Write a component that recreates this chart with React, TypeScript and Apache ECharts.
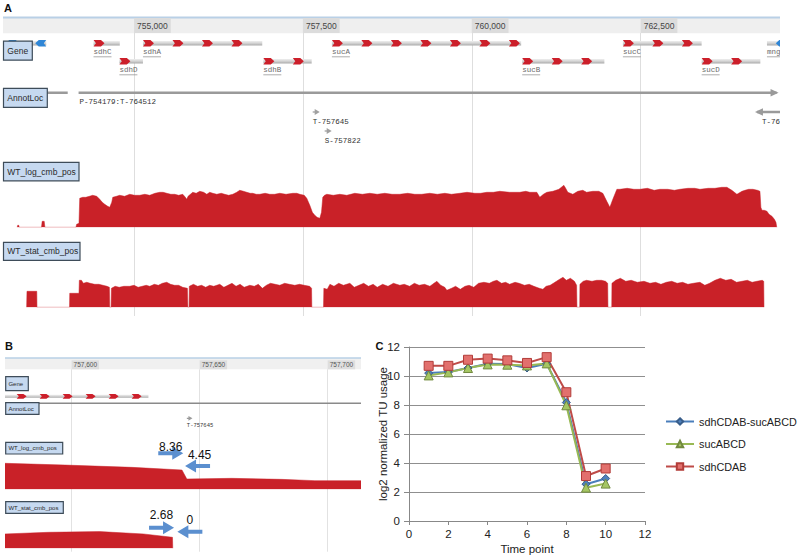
import React, { useEffect, useRef } from "react";
import * as echarts from "echarts";

// ---------- Panel A / B genome coordinates ----------
const regionA = [753060, 764563];
const ticksA = [755000, 757500, 760000, 762500];
const regionB = [757574, 757713];
const ticksB = [757600, 757650, 757700];

// Genes (Gene track)
const geneNames = ["gltA", "sdhC", "sdhD", "sdhA", "sdhB", "sucA", "sucB", "sucC", "sucD", "mngR"];
const geneStarts = [752408, 754400, 754783, 755132, 756914, 757929, 760746, 762237, 763403, 764370];
const geneEnds = [753700, 754789, 755132, 756898, 757630, 760731, 761963, 763403, 764272, 765100];
const geneStrands = [-1, 1, 1, 1, 1, 1, 1, 1, 1, -1];
const geneRows = [0, 0, 1, 0, 1, 0, 1, 0, 1, 0];

// AnnotLoc features (kind 0 = span, 1 = site)
const featLabels = ["", "P-754179:T-764512", "T-757645", "S-757822", "T-76"];
const featStarts = [752900, 754179, 757645, 757822, 764222];
const featEnds = [754018, 764512, 757645, 757822, 764600];
const featStrands = [0, 1, 1, 1, -1];
const featRows = [0, 0, 1, 2, 1];
const featKinds = [0, 0, 1, 1, 0];

// Coverage, panel A (position, coverage)
const logCoverageA = [
  [753270, 0], [753278, 2], [753293, 2], [753300, 0],
  [753630, 0], [753640, 6], [753670, 6], [753680, 0],
  [754140, 0], [754150, 3], [754185, 4], [754196, 29], [754240, 30], [754285, 30], [754340, 31], [754388, 32],
  [754448, 31], [754492, 28], [754530, 25], [754566, 23], [754610, 21], [754640, 20], [754670, 25], [754685, 30],
  [754740, 31], [754788, 32], [754860, 31], [754936, 33], [755010, 32], [755085, 32], [755160, 33], [755233, 32],
  [755310, 34], [755381, 35], [755430, 35], [755485, 34], [755545, 33], [755603, 33], [755660, 32], [755721, 33],
  [755760, 30], [755780, 28], [755800, 31], [755869, 35], [755920, 34], [755973, 36], [756030, 35], [756077, 33],
  [756120, 35], [756166, 34], [756225, 33], [756290, 34], [756343, 33], [756400, 32], [756462, 33], [756520, 35],
  [756565, 37], [756620, 36], [756669, 35], [756720, 34], [756758, 34], [756810, 33], [756862, 33], [756940, 34],
  [757010, 33], [757080, 33], [757158, 34], [757250, 33], [757350, 34], [757410, 34], [757454, 33], [757520, 32],
  [757557, 29], [757602, 22], [757640, 15], [757676, 12], [757710, 10], [757750, 9], [757775, 15], [757794, 30],
  [757820, 32], [757854, 33], [757950, 32], [758046, 33], [758150, 32], [758268, 34], [758380, 33], [758490, 34],
  [758600, 33], [758712, 34], [758820, 33], [758934, 33], [759050, 34], [759156, 33], [759260, 33], [759378, 34],
  [759490, 33], [759601, 34], [759700, 33], [759823, 34], [759930, 35], [760045, 34], [760130, 34], [760223, 35],
  [760320, 35], [760415, 36], [760560, 35], [760711, 35], [760800, 36], [760859, 35], [760963, 35], [761007, 30],
  [761060, 33], [761111, 35], [761200, 36], [761289, 38], [761363, 42], [761390, 39], [761422, 35], [761496, 33],
  [761570, 36], [761644, 37], [761700, 35], [761792, 36], [761880, 36], [761940, 34], [761999, 26], [762044, 20],
  [762088, 28], [762148, 38], [762193, 38], [762300, 39], [762400, 38], [762489, 38], [762600, 39], [762700, 37],
  [762785, 38], [762900, 38], [763000, 37], [763081, 38], [763200, 39], [763300, 39], [763378, 38], [763500, 39],
  [763600, 39], [763700, 40], [763777, 40], [763850, 37], [763925, 33], [764000, 36], [764044, 37], [764100, 38],
  [764162, 38], [764230, 37], [764266, 36], [764280, 20], [764296, 17], [764330, 17], [764370, 16], [764400, 13],
  [764444, 11], [764480, 8], [764503, 5], [764515, 0],
];
const statCoverageA = [
  [753410, 0], [753415, 16], [753560, 16], [753563, 0],
  [754045, 0], [754048, 14], [754185, 14], [754190, 27], [754221, 27], [754250, 24], [754300, 25], [754350, 24],
  [754418, 23], [754480, 23], [754540, 22], [754600, 21], [754635, 20], [754640, 0], [754660, 0], [754665, 19],
  [754720, 21], [754780, 20], [754850, 21], [754936, 21], [755000, 22], [755060, 20], [755120, 21], [755180, 22],
  [755233, 21], [755300, 23], [755360, 22], [755420, 24], [755484, 25], [755540, 23], [755600, 22], [755660, 22],
  [755720, 20], [755790, 19], [755797, 0], [755815, 0], [755818, 21], [755880, 23], [755940, 21], [756000, 22],
  [756060, 20], [756120, 22], [756180, 21], [756269, 23], [756330, 20], [756390, 22], [756450, 24], [756510, 21],
  [756570, 23], [756630, 20], [756714, 22], [756780, 21], [756840, 23], [756900, 19], [756960, 22], [757020, 24],
  [757090, 23], [757158, 22], [757230, 24], [757300, 23], [757380, 22], [757450, 23], [757520, 22], [757600, 21],
  [757628, 19], [757632, 0], [757805, 0], [757810, 19], [757860, 18], [757900, 23], [757960, 21], [758030, 24],
  [758100, 22], [758195, 24], [758260, 20], [758330, 22], [758400, 24], [758470, 21], [758540, 23], [758600, 20],
  [758680, 23], [758760, 21], [758840, 24], [758935, 22], [759000, 23], [759080, 21], [759150, 24], [759220, 22],
  [759300, 23], [759380, 21], [759440, 24], [759483, 26], [759540, 22], [759600, 20], [759631, 17], [759700, 19],
  [759760, 21], [759830, 18], [759900, 21], [759960, 22], [760030, 20], [760100, 24], [760180, 25], [760260, 24],
  [760320, 26], [760372, 27], [760440, 24], [760500, 25], [760560, 23], [760640, 25], [760700, 24], [760780, 22],
  [760850, 23], [760920, 21], [761000, 19], [761053, 18], [761100, 21], [761160, 22], [761230, 25], [761300, 28],
  [761350, 30], [761400, 27], [761460, 29], [761520, 26], [761552, 22], [761557, 0], [761598, 0], [761601, 23],
  [761650, 26], [761700, 27], [761780, 26], [761850, 27], [761920, 27], [761980, 26], [762012, 24], [762016, 0],
  [762072, 0], [762075, 24], [762130, 27], [762200, 29], [762280, 26], [762360, 27], [762450, 25], [762550, 26],
  [762638, 24], [762720, 25], [762800, 23], [762880, 25], [762960, 26], [763040, 24], [763120, 25], [763200, 23],
  [763280, 24], [763378, 25], [763450, 22], [763520, 24], [763600, 27], [763680, 29], [763760, 27], [763840, 28],
  [763920, 25], [764000, 26], [764080, 27], [764150, 25], [764220, 26], [764300, 27], [764322, 26], [764326, 0],
];

// Coverage, panel B (zoom at the sdhB / sucA junction)
const logCoverageB = [
  [757574, 11.26], [757597.5, 10.5], [757623.6, 9.5], [757643.1, 8.36], [757645, 4.45], [757662.5, 4.75],
  [757682, 4.3], [757695, 3.75], [757713, 3.75],
];
const statCoverageB = [
  [757574, 3.5], [757591, 3.9], [757611, 4.07], [757628, 3.5], [757639.4, 2.68], [757639.5, 0],
];
// Annotated values at the junction: [position, value, arrow direction]
const logMarksB = [[757643.6, 8.36, 1], [757644.3, 4.45, -1]];
const statMarksB = [[757640, 2.68, 1], [757641.3, 0, -1]];

// ---------- Panel C ----------
const timePoints = [1, 2, 3, 4, 5, 6, 7, 8, 9, 10];
const seriesNames = ["sdhCDAB-sucABCD", "sucABCD", "sdhCDAB"];
const sdhCDAB_sucABCD = [10.2, 10.27, 10.55, 10.85, 10.82, 10.55, 10.85, 8.17, 2.54, 2.93];
const sucABCD = [10.04, 10.25, 10.55, 10.8, 10.78, 10.73, 10.87, 7.98, 2.3, 2.58];
const sdhCDAB = [10.7, 10.7, 11.12, 11.2, 11.08, 10.9, 11.3, 8.88, 3.1, 3.62];

const RED = "#c92128";
const SANS = "Liberation Sans";
const MONO = "Liberation Mono";

const fmtPos = (v: number) => String(Math.round(v)).replace(/\B(?=(\d{3})+(?!\d))/g, ",");

function geneRenderer(cfg: any) {
  return (params: any, api: any) => {
    const i = params.dataIndex;
    const cs = params.coordSys;
    const x0 = api.coord([api.value(0), 0])[0];
    const x1 = api.coord([api.value(1), 0])[0];
    const strand = api.value(2);
    const row = api.value(3);
    const y = cs.y + cfg.rowY[row];
    const h = cfg.barH;
    const children: any[] = [
      {
        type: "rect",
        shape: { x: x0, y: y - h / 2, width: x1 - x0, height: h },
        style: {
          fill: new echarts.graphic.LinearGradient(0, 0, 0, 1, [
            { offset: 0, color: "#eeeeee" },
            { offset: 0.5, color: "#d2d2d2" },
            { offset: 1, color: "#a8a8a8" },
          ]),
        },
      },
    ];
    const w = cfg.chevW;
    const ch = cfg.chevH / 2;
    if (strand > 0) {
      for (let cx = x0; cx + w <= x1 + 0.5; cx += cfg.spacing) {
        children.push({
          type: "polygon",
          shape: { points: [[cx, y - ch], [cx + w * 0.68, y - ch], [cx + w, y], [cx + w * 0.68, y + ch], [cx, y + ch], [cx + w * 0.22, y]] },
          style: { fill: cfg.fwd },
        });
      }
    } else {
      for (let cx = x1; cx - w >= x0 - 0.5; cx -= cfg.spacing) {
        children.push({
          type: "polygon",
          shape: { points: [[cx, y - ch], [cx - w * 0.68, y - ch], [cx - w, y], [cx - w * 0.68, y + ch], [cx, y + ch], [cx - w * 0.22, y]] },
          style: { fill: cfg.rev },
        });
      }
    }
    if (cfg.labels && x0 >= cs.x) {
      const name = geneNames[i];
      const ly = y + cfg.labelDy;
      const maxChars = Math.max(0, Math.round((cs.x + cs.width - x0) / (cfg.fontSize * 0.6)));
      const shown = name.slice(0, maxChars);
      if (shown) {
        children.push({
          type: "text",
          x: x0,
          y: ly,
          style: { text: shown, fill: "#6a6a6a", fontSize: cfg.fontSize, fontFamily: MONO, align: "left", verticalAlign: "middle" },
        });
        const tw = shown.length * cfg.fontSize * 0.6;
        const uy = ly + cfg.fontSize * 0.6;
        children.push({ type: "line", shape: { x1: x0, y1: uy, x2: x0 + tw, y2: uy }, style: { stroke: "#8a8a8a", lineWidth: 0.7 } });
      }
    }
    return { type: "group", children };
  };
}

function featRenderer(cfg: any) {
  return (params: any, api: any) => {
    const i = params.dataIndex;
    const cs = params.coordSys;
    const x0 = api.coord([api.value(0), 0])[0];
    const x1 = api.coord([api.value(1), 0])[0];
    const strand = api.value(2);
    const row = api.value(3);
    const kind = api.value(4);
    const y = cs.y + cfg.rowY[row];
    const children: any[] = [];
    const hh = cfg.head;
    if (kind === 0) {
      children.push({ type: "line", shape: { x1: x0, y1: y, x2: x1, y2: y }, style: { stroke: cfg.color, lineWidth: cfg.lw } });
      if (strand > 0) {
        children.push({ type: "polygon", shape: { points: [[x1 - hh * 1.2, y - hh * 0.75], [x1 + 2, y], [x1 - hh * 1.2, y + hh * 0.75]] }, style: { fill: cfg.color } });
      } else if (strand < 0) {
        children.push({ type: "polygon", shape: { points: [[x0 + hh * 1.2, y - hh * 0.75], [x0 - 2, y], [x0 + hh * 1.2, y + hh * 0.75]] }, style: { fill: cfg.color } });
      }
    } else {
      children.push({ type: "line", shape: { x1: x0, y1: y, x2: x0 + hh * 0.6, y2: y }, style: { stroke: cfg.siteColor, lineWidth: 1.3 } });
      children.push({ type: "polygon", shape: { points: [[x0 + hh * 0.4, y - hh * 0.6], [x0 + hh * 1.4, y], [x0 + hh * 0.4, y + hh * 0.6]] }, style: { fill: cfg.siteColor } });
    }
    const label = featLabels[i];
    const lx = x0 + (kind === 0 ? (strand < 0 ? 5 : 1) : 0);
    if (label && lx >= cs.x && lx < cs.x + cs.width) {
      children.push({
        type: "text",
        x: lx,
        y: y + cfg.labelDy,
        style: { text: label, fill: "#333", fontSize: cfg.fontSize, fontFamily: MONO, align: "left", verticalAlign: "middle" },
      });
    }
    return { type: "group", children };
  };
}

function markRenderer(layout: any) {
  return (params: any, api: any) => {
    const cs = params.coordSys;
    const tx = api.coord([api.value(0), 0])[0];
    const val = api.value(1);
    const dir = api.value(2);
    const lay = dir > 0 ? layout.right : layout.left;
    const y = cs.y + lay.dy;
    const L = 25, hl = 11, hw = 6.5, sw = 2;
    const pts = [
      [tx - dir * L, y - sw], [tx - dir * hl, y - sw], [tx - dir * hl, y - hw], [tx, y],
      [tx - dir * hl, y + hw], [tx - dir * hl, y + sw], [tx - dir * L, y + sw],
    ];
    return {
      type: "group",
      children: [
        { type: "polygon", shape: { points: pts }, style: { fill: "#5b8fcf" } },
        {
          type: "text",
          x: tx - (dir * L) / 2 + lay.dx,
          y: y + lay.ty,
          style: { text: String(val), fill: "#111", fontSize: 12, fontFamily: SANS, align: "center", verticalAlign: "middle" },
        },
      ],
    };
  };
}

function trackBox(x: number, y: number, w: number, h: number, text: string, fs: number) {
  return {
    type: "group",
    z: 100,
    children: [
      { type: "rect", z: 100, shape: { x, y, width: w, height: h }, style: { fill: "#c6d9f0", stroke: "#3e4c59", lineWidth: 1.2 } },
      { type: "text", z: 101, x: x + fs * 0.45, y: y + h / 2, style: { text, fill: "#2a2a2a", fontSize: fs, fontFamily: SANS, verticalAlign: "middle", align: "left" } },
    ],
  };
}

const geneData = geneStarts.map((s, i) => [s, geneEnds[i], geneStrands[i], geneRows[i]]);
const featData = featStarts.map((s, i) => [s, featEnds[i], featStrands[i], featRows[i], featKinds[i]]);

const hiddenX = (grid: number, r: number[]) => ({ type: "value", gridIndex: grid, min: r[0], max: r[1], show: false });
const hiddenY = (grid: number, max: number) => ({ type: "value", gridIndex: grid, min: 0, max, show: false });

const option: any = {
  animation: false,
  grid: [
    { left: 3, top: 33, width: 777, height: 283, outerBoundsMode: "none" },
    { left: 3, top: 182.3, width: 777, height: 45, outerBoundsMode: "none" },
    { left: 3, top: 272.3, width: 777, height: 35, outerBoundsMode: "none" },
    { left: 5, top: 369.3, width: 356, height: 182.4, outerBoundsMode: "none" },
    { left: 5, top: 461.6, width: 356, height: 27.7, outerBoundsMode: "none" },
    { left: 5, top: 527.8, width: 356, height: 20.5, outerBoundsMode: "none" },
    { left: 409, top: 347, width: 236, height: 174, outerBoundsMode: "none" },
  ],
  xAxis: [
    {
      type: "value", gridIndex: 0, min: regionA[0], max: regionA[1], position: "top",
      axisLine: { show: false },
      axisTick: { show: false, customValues: ticksA },
      splitLine: { show: true, lineStyle: { color: "#dedede", width: 1 } },
      axisLabel: {
        customValues: ticksA, formatter: fmtPos, margin: 0, align: "left", verticalAlign: "bottom",
        fontSize: 8.5, fontFamily: SANS, color: "#444", backgroundColor: "#dcdcdc", padding: [3, 3, 3, 3],
      },
    },
    hiddenX(1, regionA),
    hiddenX(2, regionA),
    {
      type: "value", gridIndex: 3, min: regionB[0], max: regionB[1], position: "top",
      axisLine: { show: false },
      axisTick: { show: false, customValues: ticksB },
      splitLine: { show: true, lineStyle: { color: "#e2e2e2", width: 1 } },
      axisLabel: {
        customValues: ticksB, formatter: fmtPos, margin: 0, align: "left", verticalAlign: "bottom",
        fontSize: 6.5, fontFamily: SANS, color: "#555", backgroundColor: "#dedede", padding: [1, 2, 1, 2],
      },
    },
    hiddenX(4, regionB),
    hiddenX(5, regionB),
    {
      type: "value", gridIndex: 6, min: 0, max: 12, interval: 2,
      name: "Time point", nameLocation: "middle", nameGap: 22, nameMoveOverlap: false,
      nameTextStyle: { fontSize: 11.5, fontFamily: SANS, color: "#222" },
      axisLine: { lineStyle: { color: "#888", width: 1 } },
      axisTick: { show: true, length: 4, lineStyle: { color: "#888" } },
      axisLabel: { fontSize: 11.5, fontFamily: SANS, color: "#222", margin: 7 },
      splitLine: { show: false },
    },
  ],
  yAxis: [
    hiddenY(0, 1),
    hiddenY(1, 45),
    hiddenY(2, 35),
    hiddenY(3, 1),
    hiddenY(4, 12),
    hiddenY(5, 5),
    {
      type: "value", gridIndex: 6, min: 0, max: 12, interval: 2,
      name: "log2 normalized TU usage", nameLocation: "middle", nameRotate: 90, nameGap: 20, nameMoveOverlap: false,
      nameTextStyle: { fontSize: 11.5, fontFamily: SANS, color: "#222" },
      axisLine: { show: true, lineStyle: { color: "#888", width: 1 } },
      axisTick: { show: true, length: 5, lineStyle: { color: "#888" } },
      axisLabel: { fontSize: 11.5, fontFamily: SANS, color: "#222", margin: 9 },
      splitLine: { show: true, lineStyle: { color: "#8f8f8f", width: 1 } },
    },
  ],
  legend: {
    orient: "vertical", left: 660, top: 411, itemWidth: 28, itemHeight: 8, itemGap: 11.5,
    textStyle: { fontSize: 10.8, fontFamily: SANS, color: "#222" },
    data: seriesNames,
  },
  series: [
    // Panel A
    {
      type: "custom", xAxisIndex: 0, yAxisIndex: 0, clip: true, silent: true, data: geneData,
      encode: { x: [0, 1], y: 3 },
      renderItem: geneRenderer({ rowY: [10.3, 28.3], barH: 4.5, chevW: 11, chevH: 6.5, spacing: 29.5, fwd: "#cc1f2a", rev: "#2f86d6", labels: true, labelDy: 9, fontSize: 7.5 }),
    },
    {
      type: "custom", xAxisIndex: 0, yAxisIndex: 0, clip: true, silent: true, data: featData,
      encode: { x: [0, 1], y: 3 },
      renderItem: featRenderer({ rowY: [59.7, 79, 98], lw: 2.5, color: "#9a9a9a", siteColor: "#a0a0a0", head: 5, labelDy: 9.5, fontSize: 7.5 }),
    },
    {
      type: "line", xAxisIndex: 1, yAxisIndex: 1, data: logCoverageA, symbol: "none", silent: true,
      lineStyle: { width: 0.5, color: RED }, itemStyle: { color: RED }, areaStyle: { color: RED, opacity: 1 },
    },
    {
      type: "line", xAxisIndex: 2, yAxisIndex: 2, data: statCoverageA, symbol: "none", silent: true,
      lineStyle: { width: 0.5, color: RED }, itemStyle: { color: RED }, areaStyle: { color: RED, opacity: 1 },
    },
    // Panel B
    {
      type: "custom", xAxisIndex: 3, yAxisIndex: 3, clip: true, silent: true, data: geneData,
      encode: { x: [0, 1], y: 3 },
      renderItem: geneRenderer({ rowY: [9.9, 27], barH: 3, chevW: 10, chevH: 4.8, spacing: 23, fwd: "#cc1f2a", rev: "#2f86d6", labels: false, labelDy: 7, fontSize: 6 }),
    },
    {
      type: "custom", xAxisIndex: 3, yAxisIndex: 3, clip: true, silent: true, data: featData,
      encode: { x: [0, 1], y: 3 },
      renderItem: featRenderer({ rowY: [34, 49, 64], lw: 1.5, color: "#8a8a8a", siteColor: "#9a9a9a", head: 4, labelDy: 7, fontSize: 5.5 }),
    },
    {
      type: "line", xAxisIndex: 4, yAxisIndex: 4, data: logCoverageB, symbol: "none", silent: true,
      lineStyle: { width: 0.5, color: RED }, itemStyle: { color: RED }, areaStyle: { color: RED, opacity: 1 },
    },
    {
      type: "line", xAxisIndex: 5, yAxisIndex: 5, data: statCoverageB, symbol: "none", silent: true,
      lineStyle: { width: 0.5, color: RED }, itemStyle: { color: RED }, areaStyle: { color: RED, opacity: 1 },
    },
    {
      type: "custom", xAxisIndex: 4, yAxisIndex: 4, clip: false, silent: true, data: logMarksB, z: 10,
      encode: { x: 0, y: 1 },
      renderItem: markRenderer({ right: { dy: -8.3, ty: -6, dx: 0 }, left: { dy: 4.4, ty: -11, dx: 2 } }),
    },
    {
      type: "custom", xAxisIndex: 5, yAxisIndex: 5, clip: false, silent: true, data: statMarksB, z: 10,
      encode: { x: 0, y: 1 },
      renderItem: markRenderer({ right: { dy: 0, ty: -12.7, dx: 0 }, left: { dy: 4, ty: -11.7, dx: 0 } }),
    },
    // Panel C
    {
      name: seriesNames[0], type: "line", xAxisIndex: 6, yAxisIndex: 6,
      data: timePoints.map((t, i) => [t, sdhCDAB_sucABCD[i]]),
      symbol: "diamond", symbolSize: 8,
      lineStyle: { color: "#4a7ebb", width: 2 },
      itemStyle: { color: "#4f81bd", borderColor: "#385d8a", borderWidth: 1 },
    },
    {
      name: seriesNames[1], type: "line", xAxisIndex: 6, yAxisIndex: 6,
      data: timePoints.map((t, i) => [t, sucABCD[i]]),
      symbol: "triangle", symbolSize: 9,
      lineStyle: { color: "#98b954", width: 2 },
      itemStyle: { color: "#a5c663", borderColor: "#71893f", borderWidth: 1 },
    },
    {
      name: seriesNames[2], type: "line", xAxisIndex: 6, yAxisIndex: 6,
      data: timePoints.map((t, i) => [t, sdhCDAB[i]]),
      symbol: "rect", symbolSize: 9,
      lineStyle: { color: "#be4b48", width: 2 },
      itemStyle: { color: "#e2706d", borderColor: "#b23c39", borderWidth: 1 },
    },
  ],
  graphic: [
    // panel letters
    { type: "text", z: 100, x: 4, y: 2, style: { text: "A", fontSize: 11, fontWeight: "bold", fontFamily: SANS, fill: "#111" } },
    { type: "text", z: 100, x: 5, y: 340.5, style: { text: "B", fontSize: 11, fontWeight: "bold", fontFamily: SANS, fill: "#111" } },
    { type: "text", z: 100, x: 375.5, y: 340.5, style: { text: "C", fontSize: 11, fontWeight: "bold", fontFamily: SANS, fill: "#111" } },
    // header bars
    { type: "rect", z: -1, shape: { x: 3, y: 17.5, width: 777, height: 15.8 }, style: { fill: "#efefef" } },
    { type: "line", z: -1, shape: { x1: 3, y1: 17.5, x2: 780, y2: 17.5 }, style: { stroke: "#b9d0e6", lineWidth: 2 } },
    { type: "rect", z: -1, shape: { x: 5, y: 358, width: 356, height: 11.3 }, style: { fill: "#f0f0f0" } },
    { type: "line", z: -1, shape: { x1: 5, y1: 358, x2: 361, y2: 358 }, style: { stroke: "#b9d0e6", lineWidth: 1.6 } },
    // track labels, panel A
    trackBox(3.5, 41.2, 28.8, 19, "Gene", 8.5),
    trackBox(3.5, 88.3, 43.8, 19, "AnnotLoc", 8.5),
    trackBox(3.5, 162.3, 75.5, 18.5, "WT_log_cmb_pos", 8.5),
    trackBox(3.5, 242.3, 76.5, 18, "WT_stat_cmb_pos", 8.5),
    // track labels, panel B
    trackBox(5.7, 376.7, 22.6, 14, "Gene", 6),
    trackBox(5.7, 402.7, 33.3, 11.6, "AnnotLoc", 6),
    trackBox(5.7, 442.3, 57, 11.7, "WT_log_cmb_pos", 6),
    trackBox(5.7, 501.7, 57.6, 11.6, "WT_stat_cmb_pos", 6),
  ],
};

export default function App() {
  const ref = useRef<HTMLDivElement>(null);
  useEffect(() => {
    const chart = echarts.init(ref.current as HTMLDivElement, null, { renderer: "svg" });
    chart.setOption(option);
    return () => chart.dispose();
  }, []);
  return <div ref={ref} style={{ position: "absolute", left: 0, top: 0, width: 800, height: 556 }} />;
}
